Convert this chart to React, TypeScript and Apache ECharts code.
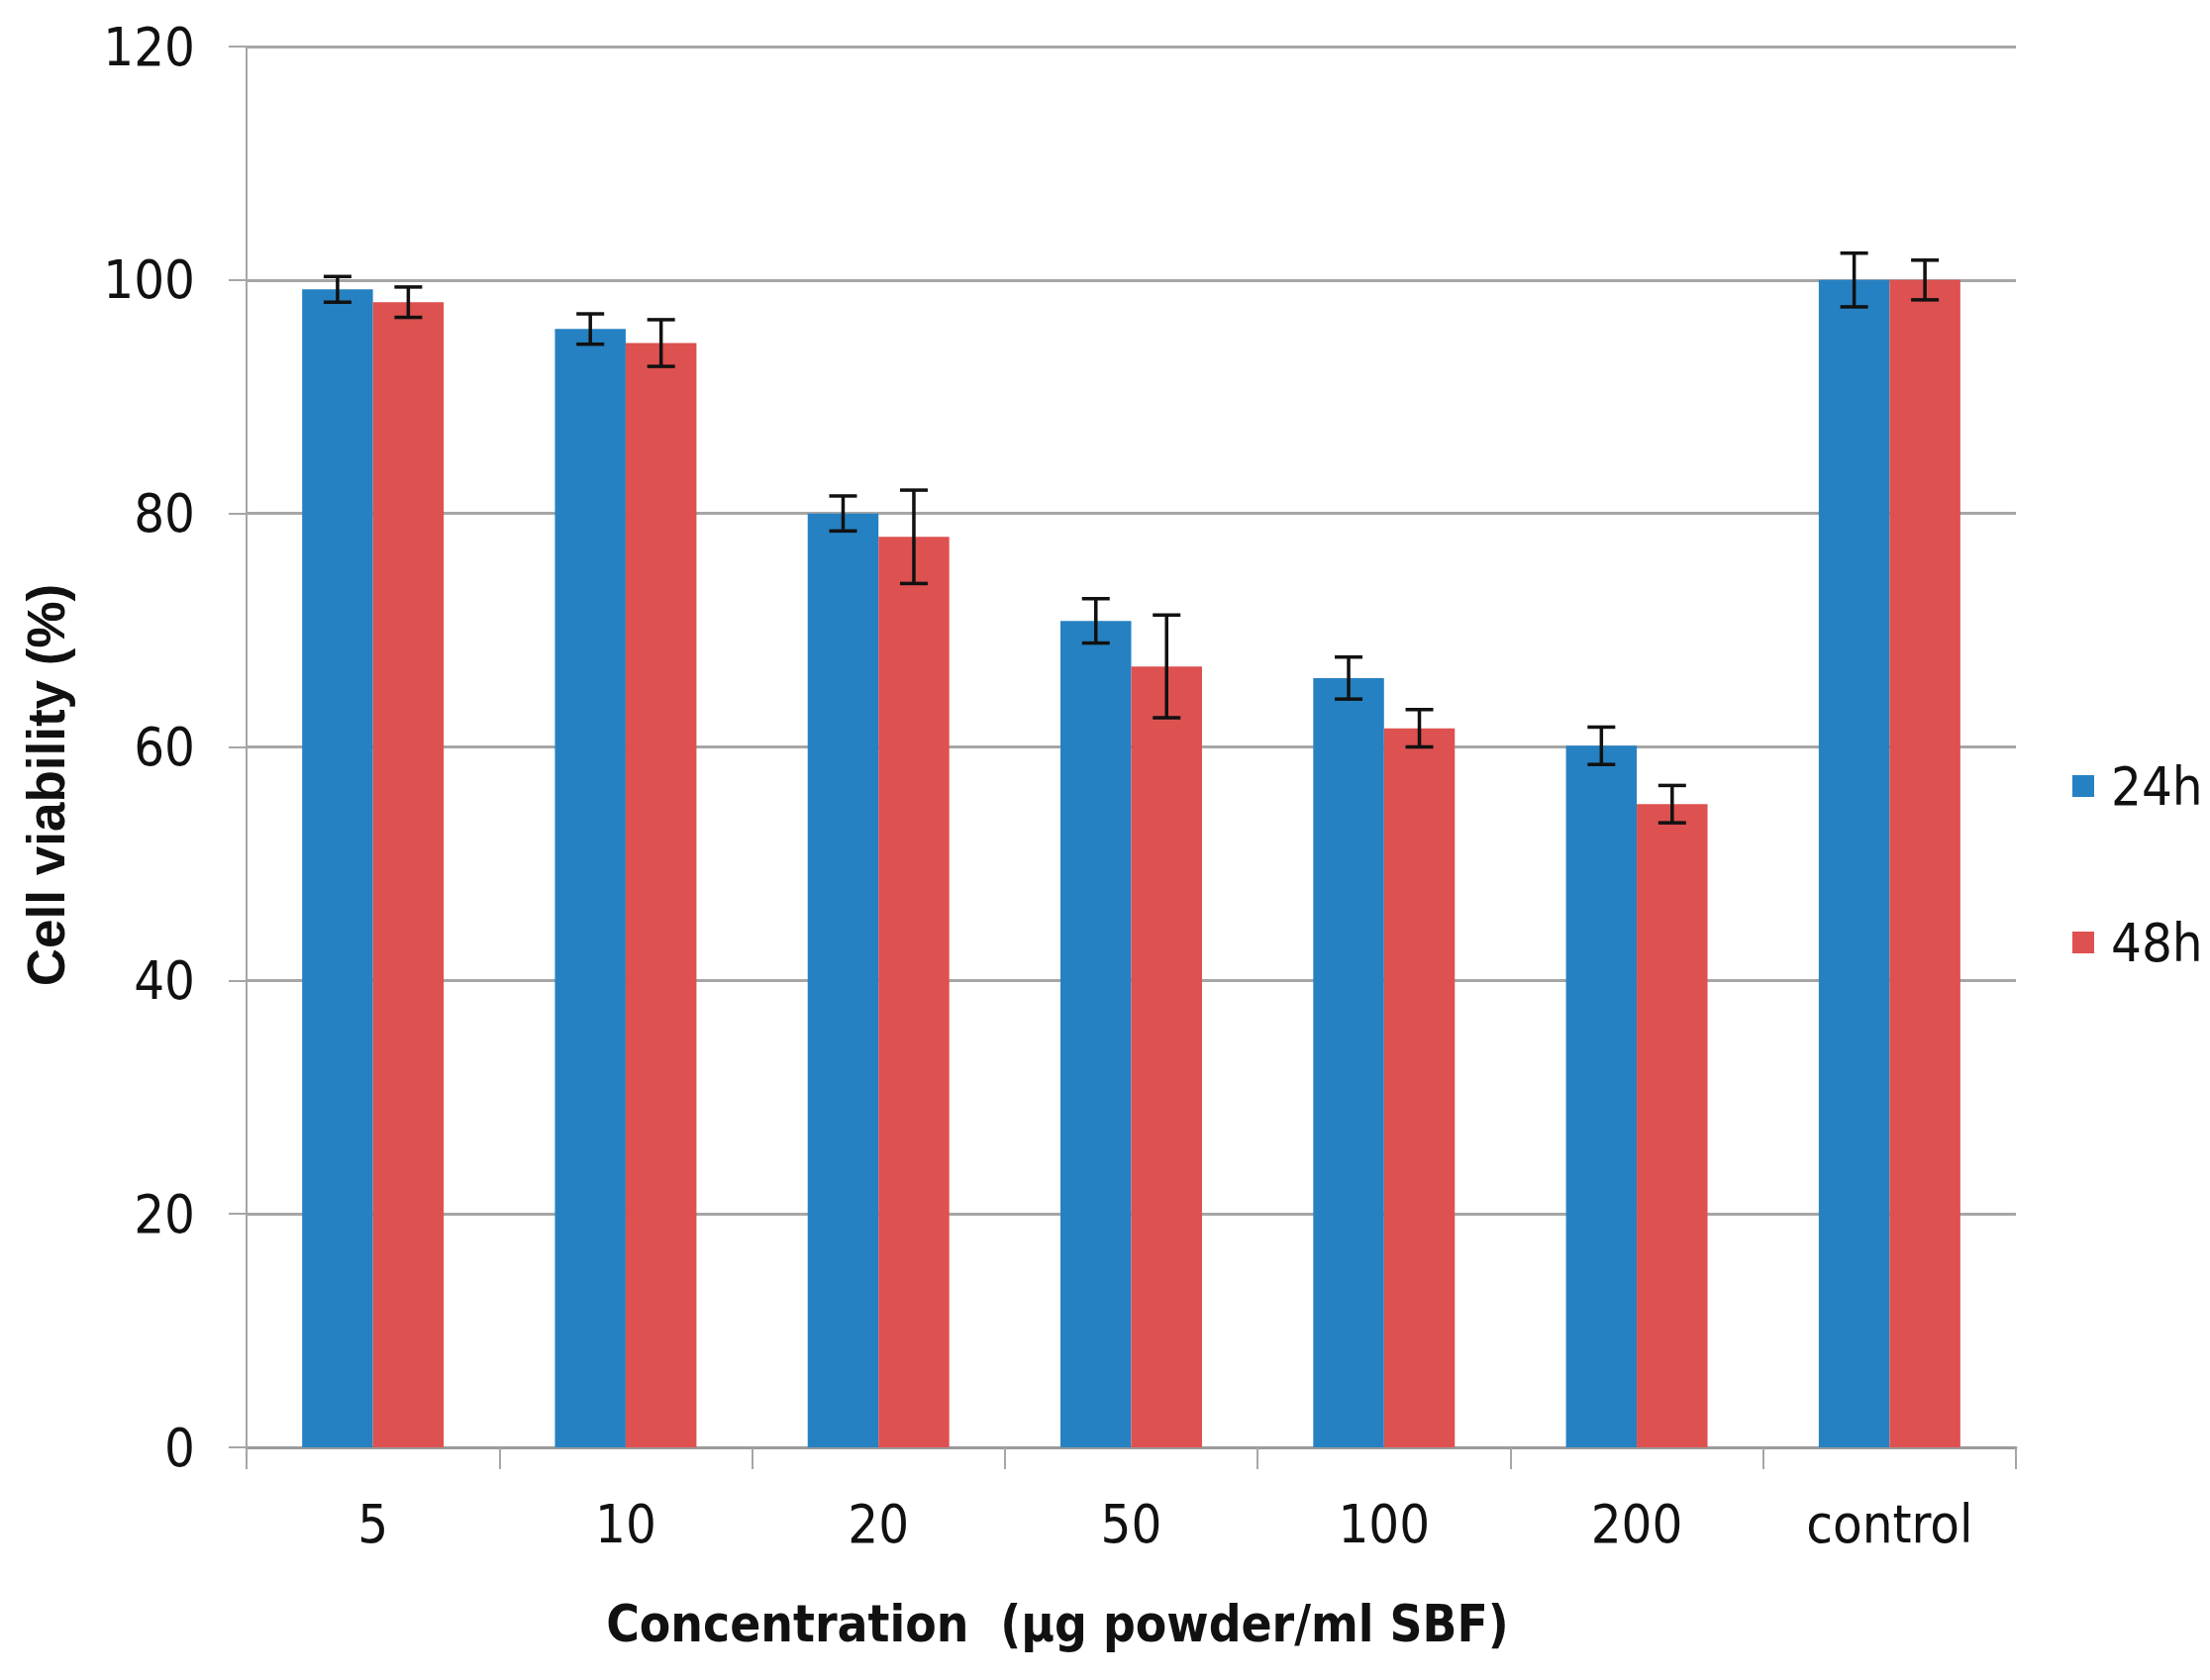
import React, { useEffect, useRef } from "react";
import * as echarts from "echarts";

const categories = ["5", "10", "20", "50", "100", "200", "control"];
const seriesNames = ["24h", "48h"];
const values24 = [99.2, 95.8, 80.0, 70.8, 65.9, 60.1, 100];
const values48 = [98.1, 94.6, 78.0, 66.9, 61.6, 55.1, 100];
const err24 = [1.1, 1.3, 1.5, 1.9, 1.8, 1.6, 2.3];
const err48 = [1.3, 2.0, 4.0, 4.4, 1.6, 1.6, 1.7];
const yTicks = [0, 20, 40, 60, 80, 100, 120];
const xTitle = "Concentration  (µg powder/ml SBF)";
const yTitle = "Cell viability (%)";

const BLUE = "#2681c2";
const RED = "#dd5150";
const GRID = "#a6a6a6";
const CAT_GAP = 0.44;
const NARROW = "'Liberation Sans Narrow', 'DejaVu Sans Condensed', 'Roboto Condensed', Roboto, sans-serif";

function errorSeries(name: string, vals: number[], errs: number[], side: number) {
  return {
    type: "custom",
    name: name + " error",
    z: 10,
    data: vals.map((v, i) => [i, v, errs[i]]),
    encode: { x: 0, y: 1 },
    renderItem: (params: any, api: any) => {
      const cat = api.value(0);
      const v = api.value(1);
      const e = api.value(2);
      const catW = api.size([1, 0])[0];
      const barW = (catW * (1 - CAT_GAP)) / 2;
      const top = api.coord([cat, v + e]);
      const bot = api.coord([cat, v - e]);
      const x = top[0] + (side * barW) / 2;
      const cap = 14;
      const style = { stroke: "#111", lineWidth: 3.5 };
      return {
        type: "group",
        children: [
          { type: "line", shape: { x1: x, y1: top[1], x2: x, y2: bot[1] }, style },
          { type: "line", shape: { x1: x - cap, y1: top[1], x2: x + cap, y2: top[1] }, style },
          { type: "line", shape: { x1: x - cap, y1: bot[1], x2: x + cap, y2: bot[1] }, style },
        ],
      };
    },
  };
}

export default function App() {
  const ref = useRef<HTMLDivElement>(null);
  useEffect(() => {
    document.body.style.margin = "0";
    const chart = echarts.init(ref.current!, undefined, { renderer: "svg" });
    chart.setOption({
      animation: false,
      backgroundColor: "#ffffff",
      grid: { left: 249, right: 196, top: 47, bottom: 235, containLabel: false },
      legend: {
        orient: "vertical",
        left: 2088,
        top: 762,
        data: seriesNames,
        icon: "rect",
        itemWidth: 22,
        itemHeight: 22,
        itemGap: 104,
        textStyle: { fontSize: 54, color: "#111", fontFamily: NARROW, padding: [0, 0, 0, 12] },
      },
      graphic: [
        {
          type: "text",
          x: 46,
          y: 793,
          rotation: Math.PI / 2,
          style: {
            text: yTitle,
            fontSize: 53,
            fontWeight: "bold",
            fill: "#111",
            fontFamily: "'Liberation Sans', Arial, sans-serif",
            align: "center",
            verticalAlign: "middle",
          },
        },
        {
          type: "text",
          x: 1068,
          y: 1640,
          style: {
            text: xTitle,
            fontSize: 51,
            fontWeight: "bold",
            fill: "#111",
            fontFamily: NARROW,
            align: "center",
            verticalAlign: "middle",
          },
        },
      ],
      xAxis: {
        type: "category",
        data: categories,
        boundaryGap: true,
        axisLine: { show: true, lineStyle: { color: "#9a9a9a", width: 3 } },
        axisTick: { show: true, length: 22, interval: 0, alignWithLabel: false, lineStyle: { color: GRID, width: 2 } },
        axisLabel: { fontSize: 54, color: "#111", margin: 50, interval: 0, fontFamily: NARROW },
        splitLine: { show: false },
      },
      yAxis: {
        type: "value",
        min: 0,
        max: 120,
        interval: 20,
        axisLine: { show: true, lineStyle: { color: GRID, width: 2 } },
        axisTick: { show: true, length: 18, lineStyle: { color: GRID, width: 2 } },
        axisLabel: {
          fontSize: 54,
          color: "#111",
          margin: 52,
          fontFamily: NARROW,
          formatter: (v: number) => (yTicks.includes(v) ? String(v) : ""),
        },
        splitLine: { show: true, lineStyle: { color: GRID, width: 3 } },
      },
      series: [
        {
          type: "bar",
          name: seriesNames[0],
          data: values24,
          itemStyle: { color: BLUE },
          barGap: "0%",
          barCategoryGap: CAT_GAP * 100 + "%",
        },
        {
          type: "bar",
          name: seriesNames[1],
          data: values48,
          itemStyle: { color: RED },
          barGap: "0%",
          barCategoryGap: CAT_GAP * 100 + "%",
        },
        errorSeries(seriesNames[0], values24, err24, -1),
        errorSeries(seriesNames[1], values48, err48, 1),
      ],
    });
    return () => chart.dispose();
  }, []);
  return <div ref={ref} style={{ width: 2232, height: 1697 }} />;
}
